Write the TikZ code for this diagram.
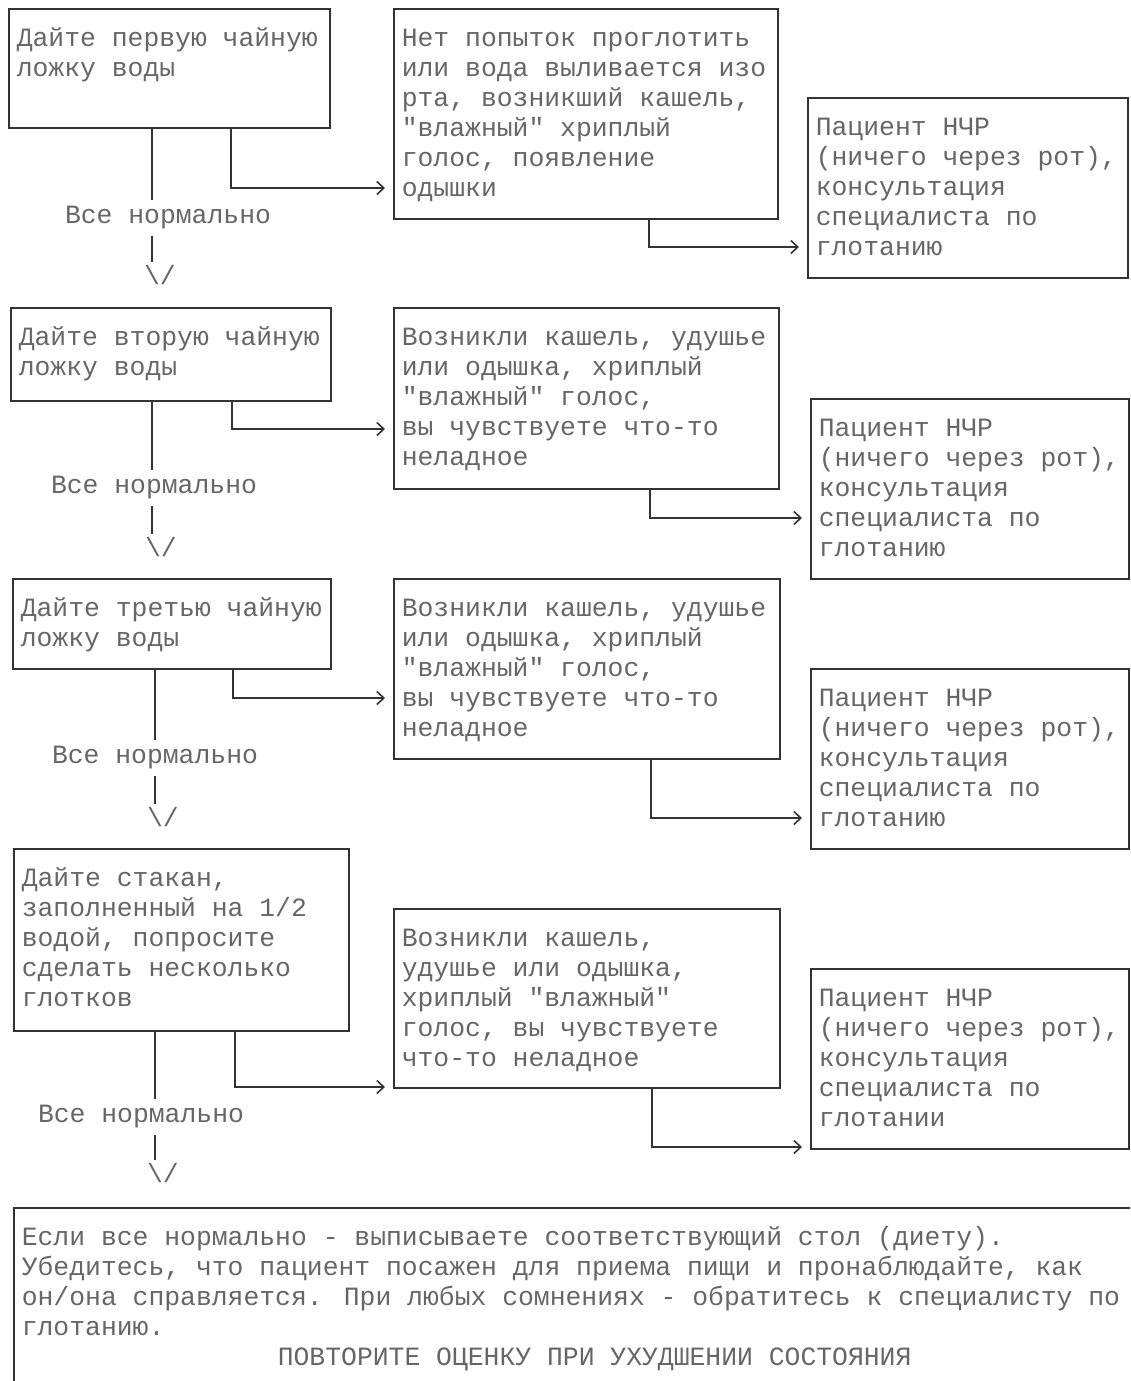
\documentclass[tikz,border=0pt]{standalone}
\usepackage{fontspec}
\usetikzlibrary{arrows.meta}
\newfontfamily\ttfont{Liberation Mono}[Ligatures=TeXOff]
\definecolor{linec}{gray}{0.2}
\definecolor{inkc}{gray}{0.4}
\newcommand{\boxtext}[3]{\parbox[c][#2pt][t]{#1pt}{\raggedright\leftskip=8pt\rule{0pt}{38pt}#3}}
\tikzset{
  mono/.style={text=inkc, font=\ttfont\fontsize{26.4}{30}\selectfont},
  stepbox/.style={mono, draw=linec, line width=1.6pt, anchor=north west, inner sep=0pt},
  oklabel/.style={mono, inner sep=6pt},
  downtip/.style={mono, inner sep=3pt},
  flow/.style={draw=linec, line width=1.6pt},
  tip/.style={flow, -{Straight Barb[length=7pt,width=13pt]}, shorten >=8pt},
}

\begin{document}
\begin{tikzpicture}[x=1pt,y=-1pt]
            \useasboundingbox (0,0) rectangle (1130,1381);
            \clip (0,0) rectangle (1130,1381);
            \node [stepbox] (s1) at (8,8) {\boxtext{321}{119}{Дайте первую чайную\\ложку воды}};
            \node [stepbox] (n1) at (393,8) {\boxtext{384}{210}{Нет попыток проглотить\\или вода выливается изо\\рта, возникший кашель,\\"влажный" хриплый\\голос, появление\\одышки}};
            \node [stepbox] (p1) at (807,97) {\boxtext{320}{180}{Пациент НЧР\\(ничего через рот),\\консультация\\специалиста по\\глотанию}};
            \node [oklabel] (ok1) at (168,218) {Все нормально};
            \node [downtip] (v1) at (160,275) {\textbackslash/};
            \coordinate (d1) at (152,0);
            \coordinate (b1) at (231,188);
            \coordinate (c1) at (649,247);
            \draw [flow] (s1.south -| d1) -- (ok1.north -| d1);
            \draw [flow] (ok1.south -| d1) -- (v1.north -| d1);
            \draw [tip] (s1.south -| b1) |- (n1.west |- b1);
            \draw [tip] (n1.south -| c1) |- (p1.west |- c1);

            \node [stepbox] (s2) at (10,307) {\boxtext{320}{93}{Дайте вторую чайную\\ложку воды}};
            \node [stepbox] (n2) at (393,307) {\boxtext{385}{181}{Возникли кашель, удушье\\или одышка, хриплый\\"влажный" голос,\\вы чувствуете что-то\\неладное}};
            \node [stepbox] (p2) at (810,398) {\boxtext{318}{180}{Пациент НЧР\\(ничего через рот),\\консультация\\специалиста по\\глотанию}};
            \node [oklabel] (ok2) at (154,488) {Все нормально};
            \node [downtip] (v2) at (161,547) {\textbackslash/};
            \coordinate (d2) at (152,0);
            \coordinate (b2) at (232,429);
            \coordinate (c2) at (650,518);
            \draw [flow] (s2.south -| d2) -- (ok2.north -| d2);
            \draw [flow] (ok2.south -| d2) -- (v2.north -| d2);
            \draw [tip] (s2.south -| b2) |- (n2.west |- b2);
            \draw [tip] (n2.south -| c2) |- (p2.west |- c2);

            \node [stepbox] (s3) at (12,578) {\boxtext{318}{90}{Дайте третью чайную\\ложку воды}};
            \node [stepbox] (n3) at (393,578) {\boxtext{386}{180}{Возникли кашель, удушье\\или одышка, хриплый\\"влажный" голос,\\вы чувствуете что-то\\неладное}};
            \node [stepbox] (p3) at (810,668) {\boxtext{318}{180}{Пациент НЧР\\(ничего через рот),\\консультация\\специалиста по\\глотанию}};
            \node [oklabel] (ok3) at (155,758) {Все нормально};
            \node [downtip] (v3) at (163,817) {\textbackslash/};
            \coordinate (d3) at (155,0);
            \coordinate (b3) at (233,698);
            \coordinate (c3) at (651,818);
            \draw [flow] (s3.south -| d3) -- (ok3.north -| d3);
            \draw [flow] (ok3.south -| d3) -- (v3.north -| d3);
            \draw [tip] (s3.south -| b3) |- (n3.west |- b3);
            \draw [tip] (n3.south -| c3) |- (p3.west |- c3);

            \node [stepbox] (s4) at (13,848) {\boxtext{335}{182}{Дайте стакан,\\заполненный на 1/2\\водой, попросите\\сделать несколько\\глотков}};
            \node [stepbox] (n4) at (393,908) {\boxtext{386}{179}{Возникли кашель,\\удушье или одышка,\\хриплый "влажный"\\голос, вы чувствуете\\что-то неладное}};
            \node [stepbox] (p4) at (810,968) {\boxtext{318}{180}{Пациент НЧР\\(ничего через рот),\\консультация\\специалиста по\\глотании}};
            \node [oklabel] (ok4) at (141,1117) {Все нормально};
            \node [downtip] (v4) at (163,1173) {\textbackslash/};
            \coordinate (d4) at (155,0);
            \coordinate (b4) at (235,1087);
            \coordinate (c4) at (652,1147);
            \draw [flow] (s4.south -| d4) -- (ok4.north -| d4);
            \draw [flow] (ok4.south -| d4) -- (v4.north -| d4);
            \draw [tip] (s4.south -| b4) |- (n4.west |- b4);
            \draw [tip] (n4.south -| c4) |- (p4.west |- c4);

            \node [stepbox] (f) at (13,1207) {\boxtext{1127}{190}{Если все нормально - выписываете соответствующий стол (диету).\\Убедитесь, что пациент посажен для приема пищи и пронаблюдайте, как\\он/она справляется. При любых сомнениях - обратитесь к специалисту по\\глотанию.\\\hspace*{256pt}ПОВТОРИТЕ ОЦЕНКУ ПРИ УХУДШЕНИИ СОСТОЯНИЯ}};
        \end{tikzpicture}
\end{document}
